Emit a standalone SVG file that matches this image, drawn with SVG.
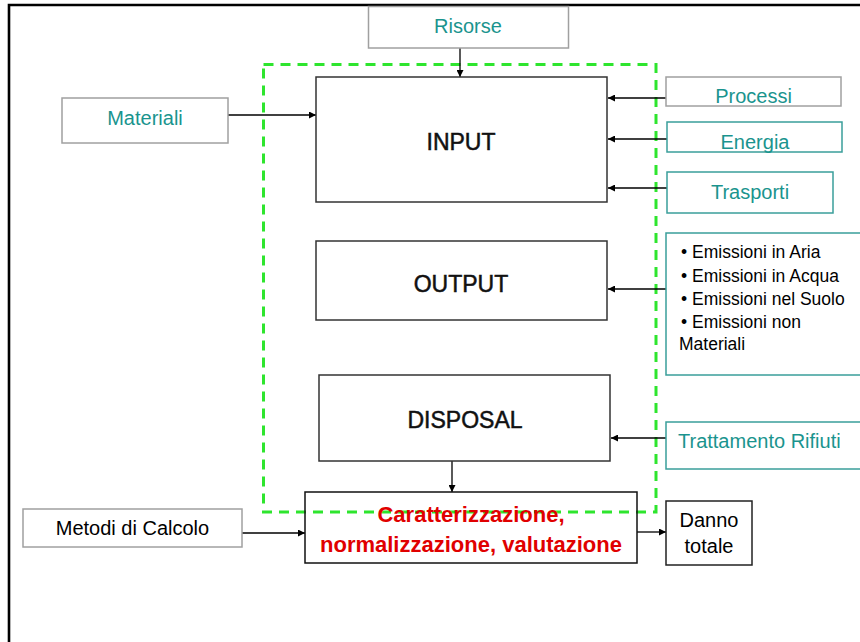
<svg xmlns="http://www.w3.org/2000/svg" width="860" height="642" viewBox="0 0 860 642">
<style>
text{font-family:"Liberation Sans",Arial,sans-serif}
.teal{fill:#1a948e;font-size:20px}
.blk{fill:#000;font-size:20px}
.big{fill:#111;font-size:23px;stroke:#111;stroke-width:0.5}
.red{fill:#e00000;font-size:22px;font-weight:bold}
.em{fill:#000;font-size:17.5px}
.gb{fill:#fff;stroke:#a0a0a0;stroke-width:1.5}
.tb{fill:#fff;stroke:#3a9e9a;stroke-width:1.5}
.kb{fill:#fff;stroke:#333;stroke-width:1.5}
.conn line{stroke:#000;stroke-width:1.3;marker-end:url(#ah)}
</style>
<defs>
<marker id="ah" viewBox="0 0 10 10" refX="10" refY="5" markerWidth="8" markerHeight="7" markerUnits="userSpaceOnUse" orient="auto">
<path d="M0,0 L10,5 L0,10 z" fill="#000"/>
</marker>
</defs>
<rect width="860" height="642" fill="#fff"/>
<path d="M9,642 V5 H860" fill="none" stroke="#000" stroke-width="2.6"/>
<g id="boundary">
<rect x="263.5" y="64.5" width="392.5" height="447.5" fill="none" stroke="#2ee52e" stroke-width="3" stroke-dasharray="10 7"/>
</g>
<g id="connectors" class="conn">
<line x1="460" y1="48" x2="460" y2="77"/>
<line x1="228" y1="115" x2="316" y2="115"/>
<line x1="666" y1="98" x2="608" y2="98"/>
<line x1="667" y1="139" x2="608" y2="139"/>
<line x1="667" y1="188" x2="608" y2="188"/>
<line x1="667" y1="289" x2="608" y2="289"/>
<line x1="666" y1="438" x2="611" y2="438"/>
<line x1="452" y1="461" x2="452" y2="492"/>
<line x1="242" y1="533" x2="305" y2="533"/>
<line x1="637" y1="532" x2="666" y2="532"/>
</g>
<g id="risorse">
<rect class="gb" x="368.5" y="6.5" width="200" height="41.5"/>
<text class="teal" x="468" y="33" text-anchor="middle">Risorse</text>
</g>
<g id="materiali">
<rect class="gb" x="62" y="98" width="166" height="45"/>
<text class="teal" x="145" y="125" text-anchor="middle">Materiali</text>
</g>
<g id="input">
<rect class="kb" x="316" y="77" width="291" height="125"/>
<text class="big" x="461" y="150" text-anchor="middle">INPUT</text>
</g>
<g id="processi">
<rect class="gb" x="666" y="77" width="175" height="29"/>
<text class="teal" x="753.5" y="103" text-anchor="middle">Processi</text>
</g>
<g id="energia">
<rect class="tb" x="667" y="122" width="175" height="30"/>
<text class="teal" x="755" y="149" text-anchor="middle">Energia</text>
</g>
<g id="trasporti">
<rect class="tb" x="667" y="172" width="166" height="41"/>
<text class="teal" x="750" y="199" text-anchor="middle">Trasporti</text>
</g>
<g id="output">
<rect class="kb" x="316" y="241" width="291" height="79"/>
<text class="big" x="461" y="292" text-anchor="middle">OUTPUT</text>
</g>
<g id="emissioni">
<rect class="tb" x="666" y="233" width="210" height="142"/>
<text class="em" x="681" y="258">• Emissioni in Aria</text>
<text class="em" x="681" y="282">• Emissioni in Acqua</text>
<text class="em" x="681" y="305">• Emissioni nel Suolo</text>
<text class="em" x="681" y="328">• Emissioni non</text>
<text class="em" x="679" y="350">Materiali</text>
</g>
<g id="disposal">
<rect class="kb" x="319" y="375" width="291" height="86"/>
<text class="big" x="465" y="428" text-anchor="middle">DISPOSAL</text>
</g>
<g id="trattamento">
<rect class="tb" x="666" y="422" width="210" height="47"/>
<text class="teal" x="678" y="448">Trattamento Rifiuti</text>
</g>
<g id="metodi">
<rect class="gb" x="23" y="509" width="219" height="38"/>
<text class="blk" x="132.5" y="535" text-anchor="middle">Metodi di Calcolo</text>
</g>
<g id="caratterizzazione">
<rect x="305" y="492" width="332" height="71" fill="none" stroke="#111" stroke-width="1.5"/>
<text class="red" x="471" y="522" text-anchor="middle">Caratterizzazione,</text>
<text class="red" x="471" y="552" text-anchor="middle">normalizzazione, valutazione</text>
</g>
<g id="danno">
<rect x="666" y="501" width="86" height="64" fill="#fff" stroke="#222" stroke-width="1.5"/>
<text class="blk" x="709" y="527" text-anchor="middle">Danno</text>
<text class="blk" x="709" y="553" text-anchor="middle">totale</text>
</g>
</svg>
